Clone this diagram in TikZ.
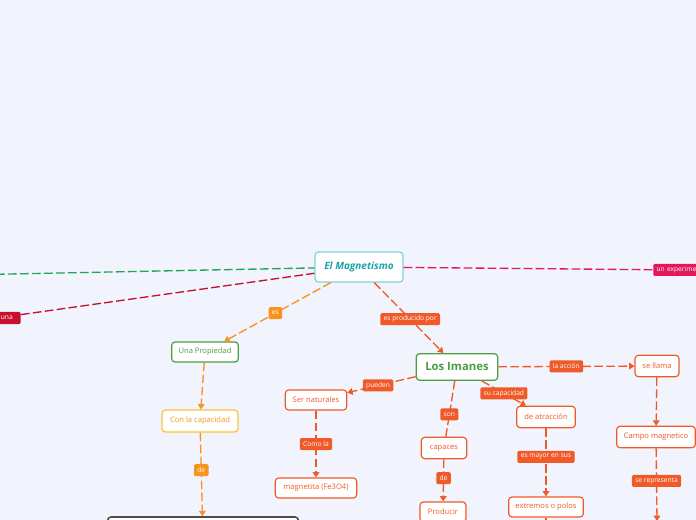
\documentclass[tikz,border=0pt]{standalone}
\usepackage{fontspec}
\setmainfont{Open Sans}
\usepackage{tikz}
\usetikzlibrary{arrows.meta, positioning}
\definecolor{PageBg}{HTML}{F1F4FD}
\definecolor{MagTeal}{HTML}{1CA3A8}
\definecolor{MagBorder}{HTML}{7FD3D6}
\definecolor{LeafGreen}{HTML}{4A9E45}
\definecolor{LineGreen}{HTML}{1FA65A}
\definecolor{Crimson}{HTML}{C8102E}
\definecolor{ExpPink}{HTML}{E2185B}
\definecolor{SunOrange}{HTML}{F7931E}
\definecolor{SunYellow}{HTML}{FBC531}
\definecolor{Ember}{HTML}{F05A28}
\definecolor{DarkGray}{HTML}{4D4D4D}

\begin{document}
\begin{tikzpicture}[
  x=0.75pt, y=-0.75pt,
  box/.style={rectangle, rounded corners=2.5pt, draw, line width=0.9pt, fill=white,
              text centered, inner sep=1pt, minimum height=15pt,
              font=\fontsize{5.7pt}{7pt}\selectfont},
  lbl/.style={rectangle, rounded corners=1pt, fill=#1, text=white, inner xsep=2.5pt,
              inner ysep=0pt, minimum height=9pt, font=\fontsize{5pt}{6pt}\selectfont},
  link/.style={draw=#1, line width=1pt, dash pattern=on 6.5pt off 2.5pt},
  arr/.style={link=#1, -{Triangle[length=4pt, width=5pt]}},
]

\useasboundingbox (0,0) rectangle (696,520);
\clip (0,0) rectangle (696,520);
\fill[PageBg] (0,0) rectangle (696,520);

\node[box, draw=MagBorder, text=MagTeal, minimum width=66pt, minimum height=22.5pt,
      font=\fontsize{7.5pt}{9pt}\selectfont\itshape\bfseries] (magn) at (359,267) {El Magnetismo};

\coordinate (westend) at (-40,275);
\node[lbl=Crimson, anchor=east, text width=24pt, align=right, inner xsep=6pt] (una) at (21,318) {una};
\node[lbl=ExpPink, anchor=west, text width=40pt, align=left] (expe) at (653,270) {un experime};

\node[box, draw=LeafGreen, text=LeafGreen, minimum width=50pt] (prop) at (205,352) {Una Propiedad};
\node[box, draw=SunYellow, text=SunOrange, minimum width=57pt, minimum height=16.5pt] (capac) at (200,421) {Con la capacidad};
\node[box, draw=DarkGray, line width=1.2pt, minimum width=143pt, minimum height=30pt] (fuerza) at (203,537) {};

\node[box, draw=LeafGreen, text=LeafGreen, minimum width=61pt, minimum height=20pt,
      font=\fontsize{8.5pt}{10pt}\selectfont\bfseries] (imanes) at (457,367) {Los Imanes};
\node[box, draw=Ember, text=Ember, minimum width=46pt] (nat) at (316,400) {Ser naturales};
\node[box, draw=Ember, text=Ember, minimum width=61pt] (magnetita) at (316,488) {magnetita (Fe3O4)};
\node[box, draw=Ember, text=Ember, minimum width=34pt, minimum height=16pt] (capaces) at (444,448) {capaces};
\node[box, draw=Ember, text=Ember, minimum width=34.5pt] (producir) at (443,512) {Producir};
\node[box, draw=Ember, text=Ember, minimum width=44pt, minimum height=16pt] (atrac) at (546,417) {de atracción};
\node[box, draw=Ember, text=Ember, minimum width=56pt] (extremos) at (546,507) {extremos o polos};
\coordinate (extdown) at (546,545);
\node[box, draw=Ember, text=Ember, minimum width=33pt, minimum height=16pt] (llama) at (657,366) {se llama};
\node[box, draw=Ember, text=Ember, minimum width=59pt, minimum height=16pt] (campo) at (656,437) {Campo magnetico};
\coordinate (campodown) at (657,521);

\draw[link=LineGreen] (westend) -- (magn);
\draw[link=Crimson] (una) -- (magn);
\draw[link=ExpPink] (magn) -- (expe);
\draw[arr=SunOrange] (magn) -- node[lbl=SunOrange, pos=0.52]{es} (prop);
\draw[arr=Ember] (magn) -- node[lbl=Ember, pos=0.52]{es producido por} (imanes);

\draw[arr=SunOrange] (prop) -- (capac);
\draw[arr=SunOrange] (capac) -- node[lbl=SunOrange, pos=0.45]{de} (fuerza);

\draw[arr=Ember] (imanes) -- node[lbl=Ember, pos=0.55]{pueden} (nat);
\draw[arr=Ember] (nat) -- node[lbl=Ember]{Como la} (magnetita);
\draw[link=Ember] (imanes) -- node[lbl=Ember, pos=0.6]{son} (capaces);
\draw[arr=Ember] (capaces) -- node[lbl=Ember, pos=0.45]{de} (producir);
\draw[arr=Ember] (imanes) -- node[lbl=Ember]{su capacidad} (atrac);
\draw[arr=Ember] (atrac) -- node[lbl=Ember, pos=0.42]{es mayor en sus} (extremos);
\draw[link=Ember] (extremos) -- (extdown);
\draw[arr=Ember] (imanes) -- node[lbl=Ember, pos=0.5]{la acción} (llama);
\draw[arr=Ember] (llama) -- (campo);
\draw[arr=Ember] (campo) -- node[lbl=Ember, pos=0.45]{se representa} (campodown);

\end{tikzpicture}
\end{document}
